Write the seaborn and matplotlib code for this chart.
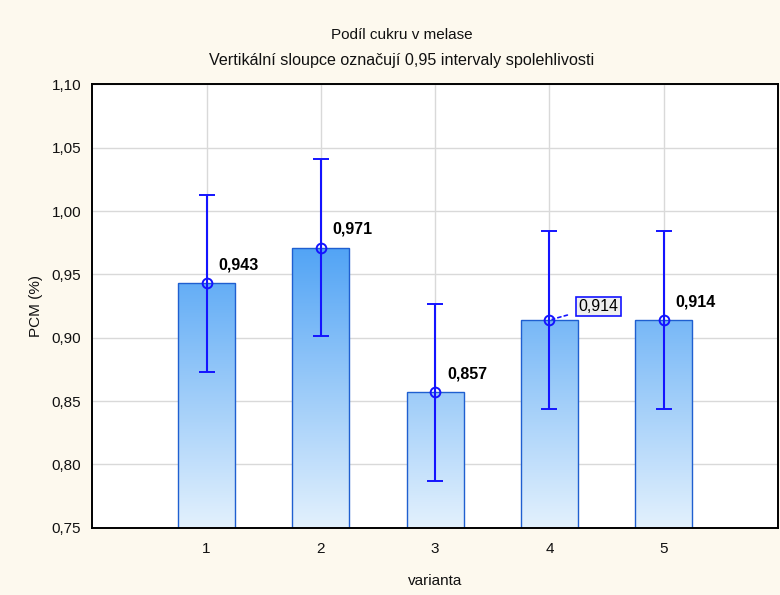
import numpy as np
import pandas as pd
import matplotlib
matplotlib.use("Agg")
import matplotlib.pyplot as plt
import seaborn as sns
from matplotlib.colors import LinearSegmentedColormap
from matplotlib.ticker import FuncFormatter, FixedLocator

# data
varianta = [1, 2, 3, 4, 5]
prumer = [0.943, 0.971, 0.857, 0.914, 0.914]
ci_dolni = [0.873, 0.901, 0.787, 0.844, 0.844]
ci_horni = [1.013, 1.041, 0.927, 0.984, 0.984]
popisky = ["0,943", "0,971", "0,857", "0,914", "0,914"]

df = pd.DataFrame({"varianta": varianta, "PCM": prumer})

sns.set_style("white")
plt.rcParams["font.family"] = ["Liberation Sans", "DejaVu Sans"]

bg = "#fdf9ee"
fig = plt.figure(figsize=(7.8, 5.95), dpi=100, facecolor=bg)
ax = fig.add_axes([0.1183, 0.1131, 0.8791, 0.7449])
ax.set_facecolor("white")

sns.barplot(data=df, x="varianta", y="PCM", native_scale=True, width=0.5,
            color="#7fbaf6", edgecolor="#1f5fd0", linewidth=1.0,
            errorbar=None, ax=ax, zorder=2)

# global vertical gradient clipped to each bar
cmap = LinearSegmentedColormap.from_list("modra", ["#e3f1fd", "#52a4f5"])
grad = np.linspace(0, 1, 256).reshape(-1, 1)
for p in list(ax.patches):
    x0 = p.get_x()
    im = ax.imshow(grad, extent=[x0, x0 + p.get_width(), 0.75, 0.971],
                   origin="lower", aspect="auto", cmap=cmap, zorder=2.1)
    im.set_clip_path(p)
    p.set_facecolor("none")
    p.set_zorder(2.2)

ax.set_xlim(0, 6)
ax.set_ylim(0.75, 1.10)

# confidence intervals
err = [np.array(prumer) - np.array(ci_dolni), np.array(ci_horni) - np.array(prumer)]
ax.errorbar(varianta, prumer, yerr=err, fmt="o", color="#1414ff",
            mfc="none", mec="#1414ff", ms=7, mew=1.4, elinewidth=1.5,
            capsize=6, capthick=1.5, zorder=4)

# value labels
for i, (xv, yv, t) in enumerate(zip(varianta, prumer, popisky)):
    if i == 3:
        ax.annotate(t, xy=(xv, yv), xytext=(29, 6), textcoords="offset pixels",
                    ha="left", va="bottom", fontsize=11.5, color="black",
                    bbox=dict(boxstyle="square,pad=0.15", fc="#efefef", ec="#1414ff", lw=1.2),
                    arrowprops=dict(arrowstyle="-", color="#1414ff", lw=1.2,
                                    linestyle=(0, (2, 2)), shrinkA=6, shrinkB=2),
                    zorder=5)
    else:
        ax.annotate(t, xy=(xv, yv), xytext=(12, 11), textcoords="offset pixels",
                    ha="left", va="bottom", fontsize=11.5, fontweight="bold",
                    color="black", zorder=5)

# axes styling
ax.yaxis.set_major_locator(FixedLocator(np.arange(0.75, 1.101, 0.05)))
ax.xaxis.set_major_locator(FixedLocator(varianta))
ax.yaxis.set_major_formatter(FuncFormatter(lambda v, _: f"{v:.2f}".replace(".", ",")))
ax.grid(True, color="#d9d9d9", lw=1.0, zorder=0)
ax.set_axisbelow(True)
for s in ax.spines.values():
    s.set_visible(True)
    s.set_color("black")
    s.set_linewidth(1.4)
ax.tick_params(axis="both", direction="in", length=4, width=1, colors="black",
               labelsize=11, labelcolor="#111111", pad=8)
ax.tick_params(axis="x", pad=10)

ax.set_xlabel("varianta", fontsize=11, color="#111111", labelpad=13)
ax.set_ylabel("PCM (%)", fontsize=11, color="#111111", labelpad=6)

fig.text(402, 595 - 39, "Podíl cukru v melase", transform=None, ha="center",
         va="baseline", fontsize=11, color="#111111")
fig.text(402, 595 - 65, "Vertikální sloupce označují 0,95 intervaly spolehlivosti",
         transform=None, ha="center", va="baseline", fontsize=11.6, color="#111111")

fig.savefig("out.png", dpi=100, facecolor=bg)
